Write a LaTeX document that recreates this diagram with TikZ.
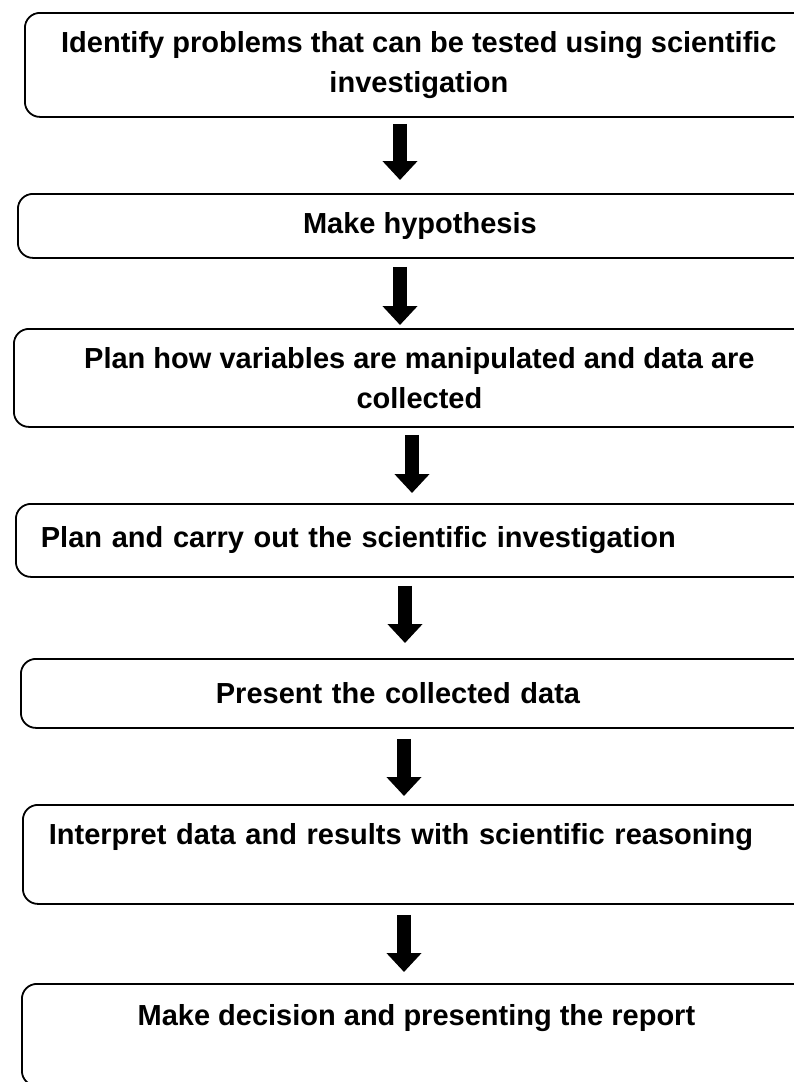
\documentclass[tikz,border=0pt]{standalone}
\usepackage{fontspec}
\setmainfont{Liberation Sans}
\usetikzlibrary{arrows.meta}
\begin{document}
\begin{tikzpicture}[x=1pt,y=-1pt,font=\bfseries\fontsize{29}{40}\selectfont,
    stepbox/.style={draw,line width=1.8pt,rounded corners=15pt,anchor=north west,inner ysep=0pt},
    flowarrow/.style={line width=14pt,-{Triangle[length=19pt,width=34pt]}}]
  \useasboundingbox (0,0) rectangle (794,1082);
  \clip (0,0) rectangle (794,1082);
  % the boxes run past the right edge of the page
  \node[stepbox,minimum width=788pt,minimum height=104pt,align=center] (b1) at (24,12)
    {Identify problems that can be tested using scientific\\investigation};
  \node[stepbox,minimum width=804pt,minimum height=64pt,align=center] (b2) at (17,193)
    {Make hypothesis};
  \node[stepbox,minimum width=811pt,minimum height=98pt,align=center] (b3) at (13,328)
    {Plan how variables are manipulated and data are\\collected};
  \node[stepbox,inner xsep=25pt,text width=750pt,minimum height=73pt,align=left] (b4) at (15,503)
    {Plan and carry out the scientific investigation};
  \node[stepbox,inner xsep=195pt,text width=402pt,minimum height=69pt,align=left] (b5) at (20,658)
    {Present the collected data};
  \node[stepbox,inner xsep=26pt,text width=745pt,minimum height=99pt,align=left] (b6) at (22,804)
    {Interpret data and results with scientific reasoning\\\mbox{}};
  \node[stepbox,minimum width=789pt,minimum height=102pt,align=center] (b7) at (21,983)
    {Make decision and presenting the report\\\mbox{}};
  \foreach \a/\b/\x/\s/\t in {b1/b2/400/6pt/13pt,b2/b3/400/8pt/3pt,b3/b4/412/7pt/10pt,
      b4/b5/405/8pt/15pt,b5/b6/404/10pt/8pt,b6/b7/404/10pt/11pt}
    \draw[flowarrow,shorten <=\s,shorten >=\t] (\a.south -| \x,0) -- (\b.north -| \x,0);
\end{tikzpicture}
\end{document}
